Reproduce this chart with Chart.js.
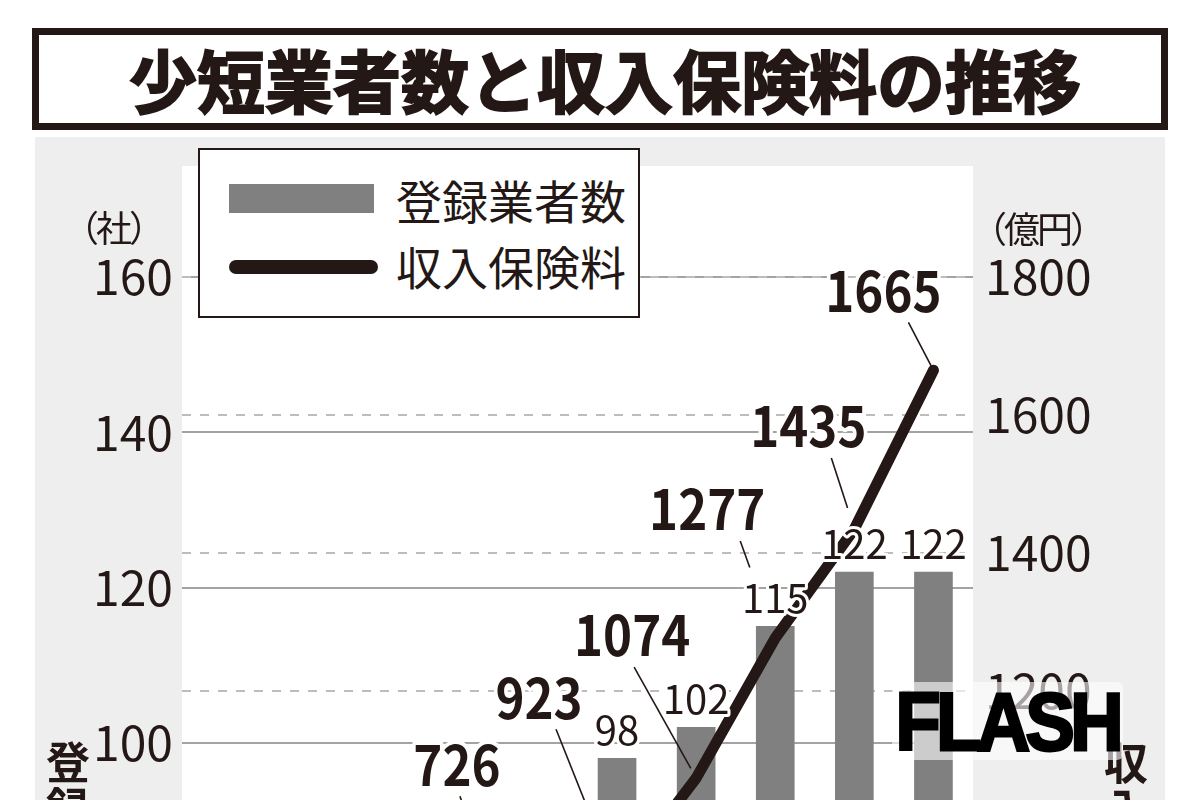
<!DOCTYPE html>
<html lang="ja">
<head>
<meta charset="utf-8">
<title>少短業者数と収入保険料の推移</title>
<script src="https://cdn.jsdelivr.net/npm/chart.js@4.4.1/dist/chart.umd.min.js"></script>
<style>
  html, body { margin: 0; padding: 0; width: 1200px; height: 800px; overflow: hidden; background: #fff; }
  body { position: relative; font-family: "Noto Sans CJK JP", sans-serif; color: #231815; }
  .panel { position: absolute; left: 35px; top: 137px; width: 1130px; height: 700px; background: #eeeeee; }
  #chartWrap { position: absolute; left: 0; top: 0; width: 1200px; height: 1560px; }
  .title-box { position: absolute; left: 32px; top: 28px; width: 1136px; height: 102px; box-sizing: border-box;
    border: 7px solid #231815; background: #fff; display: flex; align-items: center; justify-content: center; }
  .title-box h1 { margin: 0 0 0 10px; font-size: 68px; font-weight: 700; line-height: 1; -webkit-text-stroke: 2px #231815; }
  .unit { position: absolute; font-size: 36px; line-height: 1; letter-spacing: -3px; white-space: nowrap; }
  .legend { position: absolute; left: 198px; top: 148px; width: 442px; height: 170px; box-sizing: border-box;
    border: 2px solid #231815; background: #fff; }
  .legend .sw-bar { position: absolute; left: 29px; top: 34px; width: 145px; height: 29px; background: #808080; }
  .legend .sw-line { position: absolute; left: 29px; top: 110px; width: 149px; height: 14px; border-radius: 7px; background: #231815; }
  .legend .txt { position: absolute; left: 196px; font-size: 46px; line-height: 46px; white-space: nowrap; }
  .vtitle { position: absolute; height: 400px; writing-mode: vertical-rl; text-orientation: upright; white-space: nowrap;
    font-size: 44px; font-weight: 700; line-height: 1; letter-spacing: 2px; }
  .mark { position: absolute; left: 892px; top: 682px; width: 231px; height: 78px; border-radius: 6px;
    background: rgba(255,255,255,0.6); }
  .mark span { position: absolute; left: -8px; top: 5px; width: 231px; text-align: center; font-family: "Liberation Sans", sans-serif;
    font-weight: 700; font-size: 82px; line-height: 70px; letter-spacing: -5px; color: #000;
    -webkit-text-stroke: 3px #000; transform: scaleX(0.9); }
</style>
</head>
<body>
<div class="panel"></div>
<div id="chartWrap"><canvas id="chart" width="1200" height="1560"></canvas></div>

<div class="title-box"><h1>少短業者数と収入保険料の推移</h1></div>
<div class="unit" style="left:63px; top:208px;">（社）</div>
<div class="unit" style="left:971px; top:209px;">（億円）</div>

<div class="legend">
  <span class="sw-bar"></span><span class="txt" style="top:26px;">登録業者数</span>
  <span class="sw-line"></span><span class="txt" style="top:92px;">収入保険料</span>
</div>

<div class="vtitle" style="left:46px; top:740px;">登録業者数</div>
<div class="vtitle" style="left:1104px; top:741px;">収入保険料</div>

<div class="mark"><span>FLASH</span></div>

<script>
// Fiscal years: the x labels sit below the visible crop, so these are assumed
const years = ['2014', '2015', '2016', '2017', '2018', '2019', '2020', '2021', '2022', '2023'];
// 登録業者数 (社): the first bars are below the crop (< 93), so unknown
const companies = [null, null, null, null, null, 98, 102, 115, 122, 122];
// 収入保険料 (億円)
const premiums = [null, null, null, null, 726, 923, 1074, 1277, 1435, 1665];

// tick labels
const companyTicks = [0, 20, 40, 60, 80, 100, 120, 140, 160];
const premiumTicks = [0, 200, 400, 600, 800, 1000, 1200, 1400, 1600, 1800];

const INK = '#231815';
const BAR_GRAY = '#808080';

// where each premium label sits relative to its point, and its leader line
const premiumLabelPos = [
    null, null, null, null,
    { dx: -81, dy: -254, sx: 3, gap: 0 },
    { dx: -78, dy: -185, sx: 17, gap: 8 },
    { dx: -64, dy: -143, sx: 2, gap: 11 },
    { dx: -68, dy: -129, sx: 33, gap: 75 },
    { dx: -46, dy: -103, sx: 23, gap: 22 },
    { dx: -50, dy: -80, sx: 25, gap: 5 }
];

// white plot area inside the gray panel
const plotBackground = {
    id: 'plotBackground',
    beforeDraw(chart) {
        const { ctx, chartArea: a } = chart;
        ctx.save();
        ctx.fillStyle = '#fff';
        ctx.fillRect(a.left, a.top, a.right - a.left, a.bottom - a.top);
        ctx.restore();
    }
};

// value labels for bars and for the premium line
const valueLabels = {
    id: 'valueLabels',
    afterDatasetsDraw(chart) {
        const ctx = chart.ctx;
        const bars = chart.getDatasetMeta(0).data;
        const points = chart.getDatasetMeta(1).data;
        ctx.save();
        ctx.lineJoin = 'round';

        // bar labels
        ctx.font = '400 40px "Noto Sans CJK JP"';
        ctx.textAlign = 'center';
        ctx.textBaseline = 'alphabetic';
        companies.forEach((v, i) => {
            if (v == null) return;
            const b = bars[i];
            ctx.strokeStyle = '#fff';
            ctx.lineWidth = 6;
            ctx.strokeText(String(v), b.x, b.y - 13);
            ctx.fillStyle = INK;
            ctx.fillText(String(v), b.x, b.y - 13);
        });

        // line labels with leader lines
        ctx.font = '700 56px "Noto Sans CJK JP"';
        ctx.textBaseline = 'middle';
        premiums.forEach((v, i) => {
            const pos = premiumLabelPos[i];
            if (v == null || !pos) return;
            const p = points[i];
            const lx = p.x + pos.dx;
            const ly = p.y + pos.dy;
            // leader
            const sx = lx + pos.sx, sy = ly + 32;
            const vx = p.x - sx, vy = p.y - sy;
            const len = Math.hypot(vx, vy);
            const k = (len - pos.gap) / len;
            ctx.beginPath();
            ctx.moveTo(sx, sy);
            ctx.lineTo(sx + vx * k, sy + vy * k);
            ctx.strokeStyle = INK;
            ctx.lineWidth = 1.6;
            ctx.stroke();
            // text, a little condensed like the print face
            ctx.save();
            ctx.translate(lx, ly);
            ctx.scale(0.88, 1);
            ctx.strokeStyle = '#fff';
            ctx.lineWidth = 8;
            ctx.strokeText(String(v), 0, 0);
            ctx.fillStyle = INK;
            ctx.fillText(String(v), 0, 0);
            ctx.restore();
        });
        ctx.restore();
    }
};

new Chart(document.getElementById('chart'), {
    data: {
        labels: years,
        datasets: [
            {
                type: 'bar',
                label: '登録業者数',
                data: companies,
                backgroundColor: BAR_GRAY,
                barThickness: 38,
                yAxisID: 'y',
                order: 1
            },
            {
                type: 'line',
                label: '収入保険料',
                data: premiums,
                borderColor: INK,
                borderWidth: 11,
                borderCapStyle: 'round',
                borderJoinStyle: 'round',
                pointRadius: 0,
                tension: 0,
                yAxisID: 'y1',
                order: 0
            }
        ]
    },
    options: {
        responsive: false,
        animation: false,
        layout: { padding: { top: 166, bottom: 40, left: 0, right: 0 } },
        plugins: {
            legend: { display: false },
            title: { display: false },
            tooltip: { enabled: false }
        },
        scales: {
            x: {
                display: false,
                offset: true
            },
            y: {
                position: 'left',
                min: 0,
                max: 174.3,
                afterBuildTicks: scale => { scale.ticks = companyTicks.map(v => ({ value: v })); },
                afterFit: scale => { scale.width = 182; },
                ticks: {
                    padding: 9,
                    color: INK,
                    font: { family: '"Noto Sans CJK JP"', size: 48 },
                    callback: v => String(v)
                },
                grid: { color: '#a3a3a3', lineWidth: 2, drawTicks: false },
                border: { display: false }
            },
            y1: {
                position: 'right',
                min: 0,
                max: 1961,
                afterBuildTicks: scale => { scale.ticks = premiumTicks.map(v => ({ value: v })); },
                afterFit: scale => { scale.width = 227; },
                ticks: {
                    padding: 12,
                    color: INK,
                    font: { family: '"Noto Sans CJK JP"', size: 48 },
                    callback: v => String(v)
                },
                grid: { color: '#bdbdbd', lineWidth: 2, drawTicks: false },
                border: { display: false, dash: [9, 9] }
            }
        }
    },
    plugins: [plotBackground, valueLabels]
});
</script>
</body>
</html>
